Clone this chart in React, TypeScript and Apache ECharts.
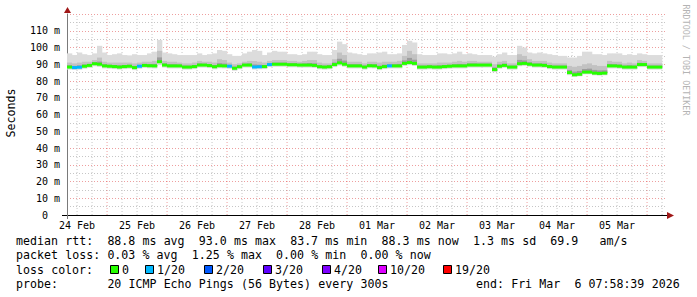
import React, { useEffect, useRef } from 'react';
import * as echarts from 'echarts';

// time axis in hours since 24 Feb 00:00; graph spans 10 days ending Fri Mar 6 07:58:39
const START_HOUR = 7.9775;
const END_HOUR = 247.9775;
const STEP_HOURS = 2;

const dayLabels = ['24 Feb', '25 Feb', '26 Feb', '27 Feb', '28 Feb', '01 Mar', '02 Mar', '03 Mar', '04 Mar', '05 Mar'];

// median RTT (ms), one value per 2 hours
const median = [
  88.3, 88.0, 88.2, 88.8, 89.3, 90.3, 90.0, 89.0, 88.8, 88.6,
  88.3, 88.6, 88.8, 88.0, 88.8, 89.3, 89.1, 89.0, 91.5, 89.5,
  89.0, 89.0, 89.0, 88.3, 88.3, 88.6, 89.5, 89.5, 89.2, 88.5,
  89.1, 89.0, 88.8, 87.6, 88.5, 89.5, 89.5, 88.3, 88.5, 88.6,
  89.8, 90.0, 90.0, 90.0, 89.7, 89.7, 89.5, 89.5, 89.5, 89.3,
  88.5, 88.3, 88.5, 89.8, 90.8, 90.0, 89.0, 89.0, 89.0, 88.3,
  89.1, 89.0, 88.0, 88.6, 89.0, 89.0, 89.0, 90.5, 91.0, 90.5,
  88.3, 88.3, 88.5, 88.3, 88.3, 88.6, 88.8, 89.0, 89.0, 89.0,
  89.5, 89.5, 89.5, 89.5, 89.5, 86.8, 88.8, 89.3, 88.3, 88.3,
  90.3, 90.5, 90.0, 89.5, 89.5, 89.3, 88.6, 88.3, 88.3, 88.3,
  85.0, 83.7, 84.0, 85.3, 85.3, 84.7, 84.5, 84.7, 89.0, 89.0,
  88.8, 88.3, 88.3, 88.3, 89.8, 89.8, 88.3, 88.3, 88.3,
];

// lowest ping of each step (ms)
const lowPing = [
  86.8, 86.6, 86.7, 87.3, 87.8, 88.8, 88.4, 87.5, 87.3, 87.1,
  86.8, 87.1, 87.3, 86.5, 87.3, 87.8, 87.6, 87.5, 89.5, 88.0,
  87.5, 87.5, 87.5, 86.8, 86.8, 87.1, 88.0, 88.0, 87.7, 87.0,
  87.6, 87.5, 87.3, 86.1, 87.0, 88.0, 88.0, 86.8, 87.0, 87.1,
  88.3, 88.5, 88.5, 88.5, 88.2, 88.2, 88.0, 88.0, 88.0, 87.8,
  87.0, 86.8, 87.0, 88.3, 89.2, 88.5, 87.5, 87.5, 87.5, 86.8,
  87.6, 87.5, 86.5, 87.1, 87.5, 87.5, 87.5, 89.0, 89.5, 89.0,
  86.8, 86.8, 87.0, 86.8, 86.8, 87.1, 87.3, 87.5, 87.5, 87.5,
  88.0, 88.0, 88.0, 88.0, 88.0, 85.3, 87.3, 87.8, 86.8, 86.8,
  88.8, 89.0, 88.5, 88.0, 88.0, 87.8, 87.1, 86.8, 86.8, 86.8,
  83.5, 82.5, 82.8, 84.0, 84.0, 83.4, 83.2, 83.4, 87.5, 87.5,
  87.3, 86.8, 86.8, 86.8, 88.3, 88.3, 86.8, 86.8, 86.8,
];

// upper edge of the dense part of the smoke (ms)
const innerPing = [
  91, 90.5, 91, 91.5, 91.5, 92.5, 94, 91.5, 91, 91,
  91, 91, 91, 90.5, 91, 91.5, 91.5, 92, 98, 92,
  91.5, 91.5, 91, 90.5, 90.5, 91, 92, 91.5, 91.5, 91,
  93, 92.5, 91, 90, 90.5, 91.5, 92, 92, 91.5, 91,
  92, 92.5, 92.5, 92.5, 92, 92, 91.5, 92, 92.5, 92.5,
  91, 90.5, 90.5, 93, 97, 95.5, 91.5, 91.5, 91.5, 90.5,
  91.5, 91.5, 91, 91.5, 91.5, 91.5, 92, 95, 98, 96,
  90.5, 90.5, 90.5, 90.5, 91, 91, 91, 91.5, 92, 91.5,
  92, 92, 91.5, 91.5, 91.5, 90, 91.5, 92, 90.5, 90.5,
  96, 95, 93, 92, 92, 92, 91, 90.5, 90.5, 90.5,
  89, 88.5, 89, 90, 90.5, 89.5, 89, 89, 92, 91.5,
  91.5, 90.5, 91, 90.5, 92.5, 92, 90.5, 90.5, 90.5,
];

// highest ping of each step (ms)
const topPing = [
  96.5, 95.5, 97, 96, 95.5, 96.5, 101, 97, 95.5, 96,
  96.5, 95.5, 95.3, 96, 95.5, 95.5, 96.5, 97.5, 104.5, 97,
  96.5, 96, 95.5, 95.5, 95.5, 95.5, 96.5, 95.5, 96, 96.5,
  98.5, 98, 96, 95, 95, 96.5, 97.5, 98.5, 98, 95.5,
  97, 98, 97.5, 97.5, 96, 96, 95.5, 96, 97.5, 97.5,
  96, 95.5, 95.5, 98.5, 103.5, 102, 97, 96.5, 96, 95.5,
  96.5, 96.5, 97, 97.5, 96, 96, 96.5, 101.5, 104, 103,
  96, 95.5, 95.5, 95.5, 96.5, 96.5, 96, 96.5, 97.5, 96,
  96.5, 96, 95.5, 95.5, 95.5, 94.5, 96, 97, 95.5, 95.5,
  101, 100, 97, 96.5, 97, 96.5, 96, 95.5, 95, 95,
  94, 94, 95, 97.5, 97.5, 96, 96, 95.5, 96.5, 96.5,
  96.5, 95.5, 96, 95.5, 96.5, 96, 95.5, 95.5, 95.5,
];

// loss class index per step (0 = no loss, 1 = 1/20 ...)
const lossIdx = [
  0, 1, 1, 0, 0, 0, 0, 0, 0, 0,
  0, 0, 0, 0, 1, 0, 0, 0, 0, 0,
  0, 0, 0, 0, 0, 0, 0, 0, 0, 0,
  0, 0, 1, 0, 0, 0, 0, 1, 1, 0,
  1, 0, 0, 0, 0, 0, 0, 0, 0, 0,
  0, 0, 0, 0, 0, 0, 0, 0, 0, 0,
  0, 0, 0, 0, 1, 0, 0, 0, 0, 0,
  0, 0, 0, 0, 0, 0, 0, 0, 0, 0,
  0, 0, 0, 0, 0, 0, 0, 0, 0, 0,
  0, 0, 0, 0, 0, 0, 0, 0, 0, 0,
  0, 0, 0, 0, 0, 0, 0, 0, 0, 0,
  0, 0, 0, 0, 0, 0, 0, 0, 0,
];

const lossColors = ['#26ff00', '#00b8ff', '#0059ff', '#5e00ff', '#7e00ff', '#dd00ff', '#ff0000'];
const lossLabels = ['0', '1/20', '2/20', '3/20', '4/20', '10/20', '19/20'];

const statLines = [
  'median rtt:  88.8 ms avg  93.0 ms max  83.7 ms min  88.3 ms now  1.3 ms sd  69.9   am/s',
  'packet loss: 0.03 % avg  1.25 % max  0.00 % min  0.00 % now',
];
const lossTitle = 'loss color:';
const probeText = 'probe:       20 ICMP Echo Pings (56 Bytes) every 300s';
const endText = 'end: Fri Mar  6 07:58:39 2026';
const yTitle = 'Seconds';
const sideText = 'RRDTOOL / TOBI OETIKER';

const MONO = '"DejaVu Sans Mono", monospace';
const nb = (s: string) => s.replace(/ /g, '\u00a0');
const CW = 7.03;
const FONT = `11.6px ${MONO}`;

function tokenTexts(line: string, x0: number, y: number) {
  const out: any[] = [];
  const re = /\S+/g;
  let m: RegExpExecArray | null;
  while ((m = re.exec(line))) {
    out.push({
      type: 'text', x: x0 + m.index * CW, y,
      style: { text: m[0], font: FONT, fill: '#000', verticalAlign: 'middle', align: 'left' },
      z: 100,
    });
  }
  return out;
}

export default function App() {
  const ref = useRef<HTMLDivElement>(null);
  useEffect(() => {
    if (!ref.current) return;
    const chart = echarts.init(ref.current, null, { renderer: 'svg' });

    const data = median.map((m, i) => [START_HOUR + i * STEP_HOURS, lowPing[i], innerPing[i], topPing[i], m, lossIdx[i]]);

    const redGrid = 'rgba(210,0,0,0.38)';
    const grayGrid = '#c6c6c6';

    // vertical grid lines every 6 hours, red at midnight
    const gridSeries: any[] = [];
    const noonHours: number[] = [];
    for (let d = 0; d <= dayLabels.length; d++) {
      for (let h = 0; h < 24; h += 6) {
        const v = d * 24 + h;
        if (v <= START_HOUR || v > END_HOUR) continue;
        gridSeries.push({
          type: 'line',
          silent: true,
          z: 1,
          symbol: 'none',
          data: [[v, 0], [v, 120]],
          lineStyle: { color: h === 0 ? redGrid : grayGrid, width: 1, type: [1, 2] },
        });
      }
      if (d < dayLabels.length) noonHours.push(d * 24 + 12);
    }

    const legendGraphics: any[] = [];
    statLines.forEach((s, k) => {
      legendGraphics.push(...tokenTexts(s, 16, 241 + k * 14.2));
    });
    legendGraphics.push(...tokenTexts(lossTitle, 16, 269.5));
    const boxX = [110, 145, 204, 263, 322, 378, 443];
    lossLabels.forEach((lab, k) => {
      legendGraphics.push({
        type: 'rect', shape: { x: boxX[k] + 0.5, y: 265.5, width: 8, height: 8 },
        style: { fill: lossColors[k], stroke: '#000', lineWidth: 1 }, z: 100,
      });
      legendGraphics.push(...tokenTexts(lab, boxX[k] + 12, 269.5));
    });
    legendGraphics.push(...tokenTexts(probeText, 16, 283.5));
    legendGraphics.push(...tokenTexts(endText, 476, 283.5));

    chart.setOption({
      animation: false,
      backgroundColor: '#ffffff',
      grid: { left: 67, right: 30, top: 14, bottom: 82, containLabel: false },
      xAxis: {
        type: 'value', min: START_HOUR, max: END_HOUR,
        axisLine: { show: true, lineStyle: { color: '#000', width: 1 } },
        axisTick: { show: false },
        splitLine: { show: false },
        axisLabel: {
          customValues: noonHours,
          formatter: (v: number) => {
            const idx = Math.round((v - 12) / 24);
            return dayLabels[idx] ? nb(dayLabels[idx]) : '';
          },
          fontFamily: MONO, fontSize: 10, color: '#000', margin: 5,
        },
      },
      yAxis: {
        type: 'value', min: 0, max: 120, interval: 5,
        axisLine: { show: true, lineStyle: { color: '#7a7a7a', width: 1 } },
        axisTick: { show: false },
        splitLine: { show: true, lineStyle: { color: [redGrid, grayGrid], type: [1, 2], width: 1 } },
        axisLabel: {
          formatter: (v: number) => {
            if (v % 10 !== 0 || v >= 120) return '';
            return v === 0 ? '0\u00a0\u00a0' : `${v}\u00a0m`;
          },
          fontFamily: MONO, fontSize: 10, color: '#000', margin: 7,
        },
      },
      series: [
        ...gridSeries,
        {
          type: 'custom',
          z: 2,
          clip: true,
          encode: { x: 0, y: [1, 3] },
          data,
          renderItem: (params: any, api: any) => {
            const t = api.value(0);
            const lo = api.value(1);
            const inn = api.value(2);
            const top = api.value(3);
            const med = api.value(4);
            const loss = api.value(5);
            const pTop = api.coord([t, top]);
            const pLo = api.coord([t + STEP_HOURS, lo]);
            const yInn = api.coord([t, inn])[1];
            const yMed = api.coord([t, med])[1];
            const x0 = pTop[0];
            const w = pLo[0] - x0 + 0.3;
            const darkH = (yMed - yInn) * 0.4;
            return {
              type: 'group',
              children: [
                { type: 'rect', shape: { x: x0, y: pTop[1], width: w, height: pLo[1] - pTop[1] }, style: { fill: '#dcdcdc' } },
                { type: 'rect', shape: { x: x0, y: yInn, width: w, height: yMed - yInn }, style: { fill: '#c2c2c2' } },
                { type: 'rect', shape: { x: x0, y: yMed - darkH, width: w, height: darkH }, style: { fill: '#9c9c9c' } },
                { type: 'rect', shape: { x: x0, y: yMed - 1.5, width: w, height: 3 }, style: { fill: lossColors[loss] } },
              ],
            };
          },
        },
      ],
      graphic: [
        { type: 'line', shape: { x1: 62, y1: 215.5, x2: 67, y2: 215.5 }, style: { stroke: '#000', lineWidth: 1 }, z: 100 },
        { type: 'line', shape: { x1: 67.5, y1: 215, x2: 67.5, y2: 219 }, style: { stroke: '#7a7a7a', lineWidth: 1 }, z: 100 },
        { type: 'polygon', shape: { points: [[64, 13], [71, 13], [67.5, 7]] }, style: { fill: '#a01818' }, z: 100 },
        { type: 'polygon', shape: { points: [[667, 212], [667, 219], [674, 215.5]] }, style: { fill: '#a01818' }, z: 100 },
        {
          type: 'text', x: 11, y: 113, rotation: Math.PI / 2,
          style: { text: yTitle, font: FONT, fill: '#000', align: 'center', verticalAlign: 'middle' },
        },
        {
          type: 'text', x: 686, y: 60, rotation: -Math.PI / 2,
          style: { text: nb(sideText), font: `8.4px ${MONO}`, fill: '#b4b4b4', align: 'center', verticalAlign: 'middle' },
        },
        ...legendGraphics,
      ],
    });
    return () => chart.dispose();
  }, []);
  return <div ref={ref} style={{ position: 'fixed', left: 0, top: 0, width: 697, height: 297, background: '#fff' }} />;
}
